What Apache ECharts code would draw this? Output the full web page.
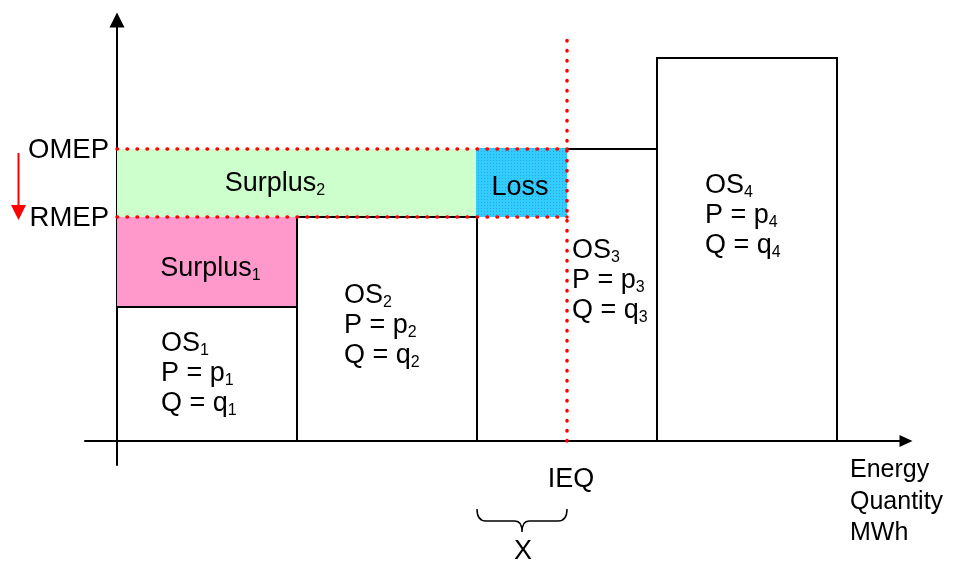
<!DOCTYPE html>
<html><head><meta charset="utf-8">
<script src="https://cdn.jsdelivr.net/npm/echarts@6/dist/echarts.min.js"></script>
<style>html,body{margin:0;padding:0;background:#fff}#c{width:953px;height:561px}</style>
</head><body><div id="c"></div><script>
// ---- data ----
const offerNames = ['OS', 'OS', 'OS', 'OS'];
const offerIndex = ['1', '2', '3', '4'];
const quantities = [1, 1, 1, 1];
const prices = [13.4, 22.4, 29.2, 38.3];
const OMEP = 29.2;
const RMEP = 22.4;
const IEQ = 2.5;
const priceLabels = ['OMEP', 'RMEP'];
const quantityLabel = 'IEQ';
const intervalLabel = 'X';
const axisTitle = ['Energy', 'Quantity', 'MWh'];
const regionNames = ['Surplus', 'Surplus', 'Loss'];
const regionIndex = ['1', '2', ''];
const xRange = [-0.1778, 4.3833];
const yRange = [-2.4, 42.1];
const ieqLineTop = 40.3;

// ---- derived ----
const edges = [0];
quantities.forEach(q => edges.push(edges[edges.length - 1] + q));
const barData = prices.map((p, i) => [edges[i], edges[i + 1], 0, p]);
const regionData = [
  [edges[0], edges[1], prices[0], RMEP],
  [edges[0], edges[2], RMEP, OMEP],
  [edges[2], IEQ, RMEP, OMEP]
];
const dottedData = [
  [0, OMEP, IEQ, OMEP],
  [0, RMEP, IEQ, RMEP],
  [IEQ, 0, IEQ, ieqLineTop]
];

// ---- styles ----
const FONT = '"Liberation Sans", Arial, sans-serif';
const FS = 27;
const regionColors = ['#FF99CC', '#CCFFCC'];
const tile = document.createElement('canvas');
tile.width = 3; tile.height = 3;
(function () {
  const c = tile.getContext('2d');
  c.fillStyle = '#33CCFF'; c.fillRect(0, 0, 3, 3);
  c.fillStyle = '#2AA6E6'; c.fillRect(1, 1, 1, 1);
})();
const richStyles = {
  m: { fontSize: FS, lineHeight: 30, fontFamily: FONT, fill: '#000' },
  s: { fontSize: 16, lineHeight: 18, fontFamily: FONT, fill: '#000', verticalAlign: 'bottom' }
};
const osLayout = [[44, 22], [47, 64], [95, 87], [48, 113]];
const regionLayout = [[3.5, 6.5], [-22, 0.5], [-2, 4.5]];

function rectOf(api, x0, x1, y0, y1) {
  const a = api.coord([x0, y1]), b = api.coord([x1, y0]);
  return { x: a[0], y: a[1], width: b[0] - a[0], height: b[1] - a[1] };
}

const chart = echarts.init(document.getElementById('c'), null, { renderer: 'canvas' });
const axisCommon = {
  type: 'value',
  axisTick: { show: false },
  axisLabel: { show: false },
  splitLine: { show: false }
};
const option = {
  animation: false,
  backgroundColor: '#fff',
  grid: { left: 85, right: 47, top: 20, bottom: 96 },
  xAxis: Object.assign({}, axisCommon, {
    min: xRange[0], max: xRange[1],
    axisLine: { show: true, onZero: true, symbol: ['none', 'triangle'], symbolSize: [12, 13],
      lineStyle: { color: '#000', width: 2 } }
  }),
  yAxis: Object.assign({}, axisCommon, {
    min: yRange[0], max: yRange[1],
    axisLine: { show: true, onZero: true, symbol: ['none', 'triangle'], symbolSize: [15, 15],
      lineStyle: { color: '#000', width: 2 } }
  }),
  series: [
    { // surplus fills
      type: 'custom', z: 2, silent: true, clip: false,
      data: regionData.slice(0, 2),
      renderItem: function (params, api) {
        return { type: 'rect', shape: rectOf(api, api.value(0), api.value(1), api.value(2), api.value(3)),
          style: { fill: regionColors[params.dataIndex], stroke: null } };
      }
    },
    { // offer step bars
      type: 'custom', z: 3, silent: true, clip: false,
      data: barData,
      renderItem: function (params, api) {
        return { type: 'rect', shape: rectOf(api, api.value(0), api.value(1), api.value(2), api.value(3)),
          style: { fill: null, stroke: '#000', lineWidth: 2 } };
      }
    },
    { // loss
      type: 'custom', z: 4, silent: true, clip: false,
      data: regionData.slice(2),
      renderItem: function (params, api) {
        const r = rectOf(api, api.value(0), api.value(1), api.value(2), api.value(3));
        r.x -= 1; r.y -= 1; r.width += 1; r.height += 1;
        return { type: 'rect', shape: r, style: { fill: { image: tile, repeat: 'repeat' }, stroke: null } };
      }
    },
    { // red dotted lines
      type: 'custom', z: 5, silent: true, clip: false,
      data: dottedData,
      renderItem: function (params, api) {
        const a = api.coord([api.value(0), api.value(1)]), b = api.coord([api.value(2), api.value(3)]);
        return { type: 'line', shape: { x1: a[0], y1: a[1], x2: b[0], y2: b[1] },
          style: { stroke: '#FF0000', lineWidth: 3.5, lineDash: [0.5, 9.5], lineCap: 'round' } };
      }
    },
    { // offer labels
      type: 'custom', z: 6, silent: true, clip: false,
      data: barData,
      renderItem: function (params, api) {
        const i = params.dataIndex;
        const a = api.coord([api.value(0), api.value(3)]);
        const k = offerIndex[i];
        return { type: 'text', x: a[0] + osLayout[i][0], y: a[1] + osLayout[i][1],
          style: { text: '{m|' + offerNames[i] + '}{s|' + k + '}\n{m|P = p}{s|' + k + '}\n{m|Q = q}{s|' + k + '}',
            rich: richStyles, align: 'left', verticalAlign: 'top', fontSize: FS, fontFamily: FONT, fill: '#000' } };
      }
    },
    { // region labels
      type: 'custom', z: 6, silent: true, clip: false,
      data: regionData,
      renderItem: function (params, api) {
        const i = params.dataIndex;
        const a = api.coord([(api.value(0) + api.value(1)) / 2, (api.value(2) + api.value(3)) / 2]);
        const txt = '{m|' + regionNames[i] + '}' + (regionIndex[i] ? '{s|' + regionIndex[i] + '}' : '');
        return { type: 'text', x: a[0] + regionLayout[i][0], y: a[1] + regionLayout[i][1],
          style: { text: txt, rich: richStyles, align: 'center', verticalAlign: 'middle', fontSize: FS, fontFamily: FONT, fill: '#000' } };
      }
    },
    { // price labels
      type: 'custom', z: 6, silent: true, clip: false,
      data: [[0, OMEP], [0, RMEP]],
      renderItem: function (params, api) {
        const a = api.coord([api.value(0), api.value(1)]);
        return { type: 'text', x: a[0] - 8, y: a[1] + 1,
          style: { text: priceLabels[params.dataIndex], align: 'right', verticalAlign: 'middle', fontSize: 27.5, fontFamily: FONT, fill: '#000' } };
      }
    },
    { // price move arrow
      type: 'custom', z: 6, silent: true, clip: false,
      data: [[OMEP, RMEP]],
      renderItem: function (params, api) {
        const top = api.coord([0, api.value(0)])[1] + 4;
        const bot = api.coord([0, api.value(1)])[1] + 3;
        const x = 18.5;
        return { type: 'group', children: [
          { type: 'line', shape: { x1: x, y1: top, x2: x, y2: bot - 14 }, style: { stroke: '#FF0000', lineWidth: 2 } },
          { type: 'polygon', shape: { points: [[x - 7.5, bot - 15], [x + 7.5, bot - 15], [x, bot]] }, style: { fill: '#FF0000' } }
        ] };
      }
    },
    { // IEQ label, brace, X, axis title
      type: 'custom', z: 6, silent: true, clip: false,
      data: [[edges[2], IEQ]],
      renderItem: function (params, api) {
        const a = api.coord([api.value(0), 0]);
        const b = api.coord([api.value(1), 0]);
        const end = api.coord([xRange[1], 0]);
        const x0 = a[0], x1 = b[0], y = a[1], m = (x0 + x1) / 2;
        const yt = y + 68, yh = y + 80, yp = y + 91;
        const path = 'M' + x0 + ' ' + yt + ' Q' + x0 + ' ' + yh + ' ' + (x0 + 9) + ' ' + yh +
          ' L' + (m - 7) + ' ' + yh + ' Q' + m + ' ' + yh + ' ' + m + ' ' + yp +
          ' Q' + m + ' ' + yh + ' ' + (m + 7) + ' ' + yh +
          ' L' + (x1 - 9) + ' ' + yh + ' Q' + x1 + ' ' + yh + ' ' + x1 + ' ' + yt;
        return { type: 'group', children: [
          { type: 'text', x: x1 + 4, y: y + 38.5,
            style: { text: quantityLabel, align: 'center', verticalAlign: 'middle', fontSize: FS, fontFamily: FONT, fill: '#000' } },
          { type: 'path', shape: { pathData: path }, style: { fill: null, stroke: '#000', lineWidth: 1.5 } },
          { type: 'text', x: m + 1, y: y + 110.5,
            style: { text: intervalLabel, align: 'center', verticalAlign: 'middle', fontSize: FS, fontFamily: FONT, fill: '#000' } },
          { type: 'text', x: end[0] - 56, y: y + 13.5,
            style: { text: axisTitle.join('\n'), align: 'left', verticalAlign: 'top', lineHeight: 31.5, fontSize: 25, fontFamily: FONT, fill: '#000' } }
        ] };
      }
    }
  ]
};
chart.setOption(option);
</script></body></html>
